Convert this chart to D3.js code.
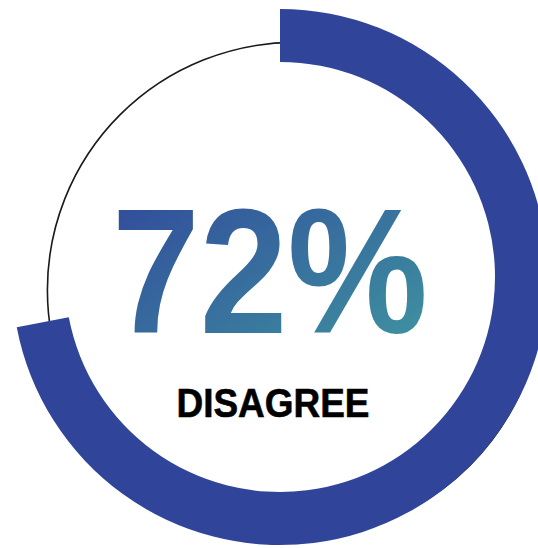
<!DOCTYPE html>
<html>
<head>
<meta charset="utf-8">
<script src="https://cdn.jsdelivr.net/npm/d3@7"></script>
<style>
  html, body { margin: 0; padding: 0; background: #ffffff; }
  svg { display: block; }
</style>
</head>
<body>
<svg id="chart" width="538" height="548"></svg>
<script>
// Share of respondents and the answer it describes
const categories = ["DISAGREE", "OTHER"];
const values = [72, 28];
const valueLabel = "72%";

const width = 538, height = 548;
const cx = 280, cy = 277;
const outerR = 268, innerR = 215;

const svg = d3.select("#chart");

// Gradient used for the big percentage figure
const defs = svg.append("defs");
const grad = defs.append("linearGradient")
  .attr("id", "pctGrad")
  .attr("x1", "0%").attr("y1", "0%")
  .attr("x2", "100%").attr("y2", "100%");
grad.append("stop").attr("offset", "0%").attr("stop-color", "#30469b");
grad.append("stop").attr("offset", "100%").attr("stop-color", "#3f98a0");

// Thin outline ring, slightly offset from the band centre
svg.append("circle")
  .attr("cx", cx + 15)
  .attr("cy", cy + 13)
  .attr("r", 247.6)
  .attr("fill", "none")
  .attr("stroke", "#1a1a1a")
  .attr("stroke-width", 1.6);

// Angle scale: share of 100 mapped onto a full turn
const angle = d3.scaleLinear().domain([0, d3.sum(values)]).range([0, 2 * Math.PI]);

const arc = d3.arc().innerRadius(innerR).outerRadius(outerR);

svg.append("path")
  .attr("transform", `translate(${cx},${cy})`)
  .attr("d", arc({ startAngle: angle(0), endAngle: angle(values[0]) }))
  .attr("fill", "#30459a");

// Big percentage figure
svg.append("text")
  .attr("x", 270)
  .attr("y", 333)
  .attr("text-anchor", "middle")
  .attr("font-family", "'Liberation Sans', Arial, sans-serif")
  .attr("font-weight", "bold")
  .attr("font-size", 179)
  .attr("textLength", 316)
  .attr("lengthAdjust", "spacingAndGlyphs")
  .attr("fill", "url(#pctGrad)")
  .text(valueLabel);

// Category caption
svg.append("text")
  .attr("x", 273)
  .attr("y", 417)
  .attr("text-anchor", "middle")
  .attr("font-family", "'Liberation Sans Narrow', 'Liberation Sans', Arial, sans-serif")
  .attr("font-weight", "bold")
  .attr("font-size", 41)
  .attr("textLength", 193)
  .attr("lengthAdjust", "spacingAndGlyphs")
  .attr("fill", "#000000")
  .attr("stroke", "#000000")
  .attr("stroke-width", 0.6)
  .text(categories[0]);
</script>
</body>
</html>
